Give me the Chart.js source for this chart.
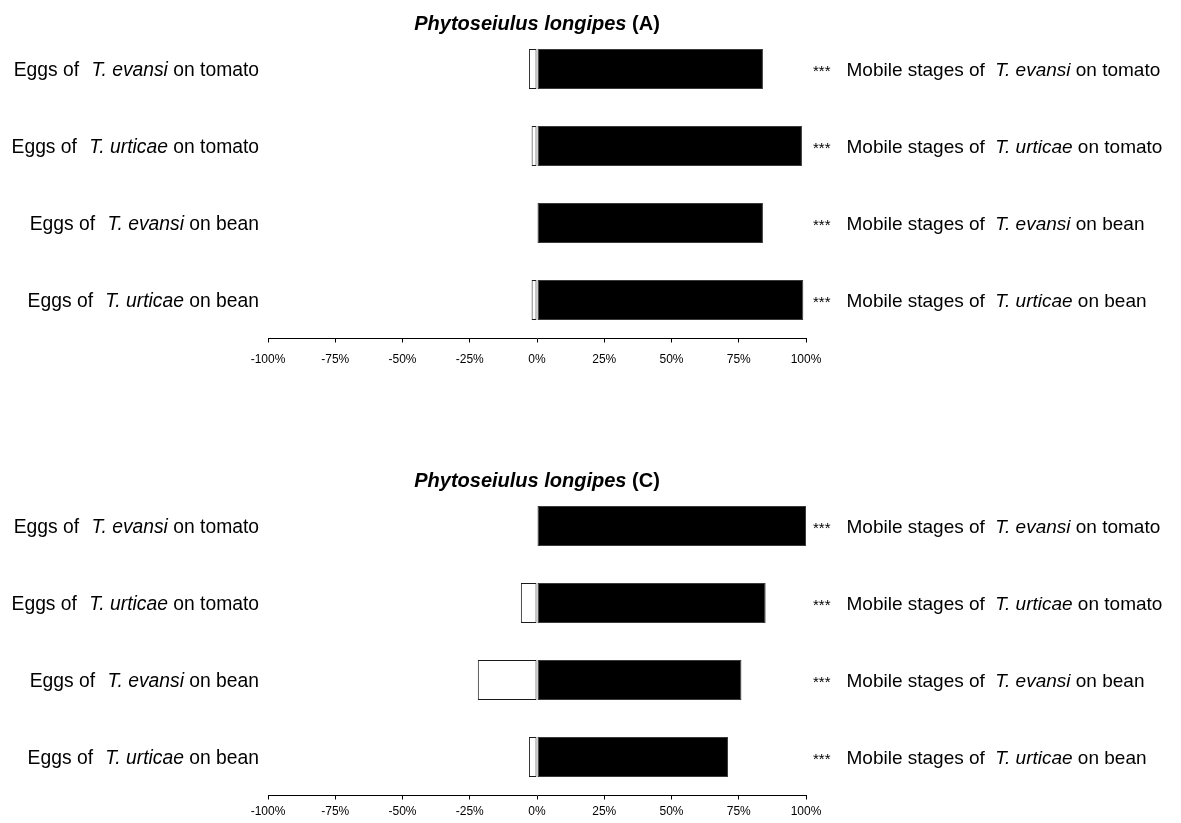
<!DOCTYPE html>
<html>
<head>
<meta charset="utf-8">
<script src="https://cdn.jsdelivr.net/npm/chart.js@4.4.0/dist/chart.umd.min.js"></script>
<style>
  html, body { margin: 0; padding: 0; background: #fff; }
  #wrap { position: relative; width: 1181px; height: 823px; }
  .box { position: absolute; left: 0; width: 1181px; }
  #boxA { top: 0; height: 411px; }
  #boxC { top: 411px; height: 412px; }
</style>
</head>
<body>
<div id="wrap">
  <div class="box" id="boxA"><canvas id="chartA"></canvas></div>
  <div class="box" id="boxC"><canvas id="chartC"></canvas></div>
</div>
<script>
// rows, top to bottom
const species = ['T. evansi', 'T. urticae', 'T. evansi', 'T. urticae'];
const plants = ['tomato', 'tomato', 'bean', 'bean'];

// panel A
const eggsA = [-3, -2, 0, -2];
const mobileA = [84, 98.5, 84, 99];
const signifA = ['***', '***', '***', '***'];

// panel C
const eggsC = [0, -6, -22, -3];
const mobileC = [100, 85, 76, 71];
const signifC = ['***', '***', '***', '***'];

const FONT = "'Liberation Sans', Arial, sans-serif";

// draws pieces of text with their own font, one after the other
function drawParts(ctx, parts, x, y, align) {
  let total = 0;
  parts.forEach(p => { ctx.font = p.font; total += ctx.measureText(p.text).width + (p.gap || 0); });
  let cx = align === 'right' ? x - total : align === 'center' ? x - total / 2 : x;
  parts.forEach(p => {
    ctx.font = p.font;
    ctx.fillText(p.text, cx, y);
    cx += ctx.measureText(p.text).width + (p.gap || 0);
  });
}

function labelPlugin(letter, signif) {
  return {
    id: 'sideLabels',
    afterDraw(chart) {
      const ctx = chart.ctx;
      const area = chart.chartArea;
      const yScale = chart.scales.y;
      ctx.save();
      ctx.fillStyle = '#000';
      ctx.textBaseline = 'alphabetic';
      const regL = '19.3px ' + FONT;
      const itaL = 'italic 19.3px ' + FONT;
      const reg = '19px ' + FONT;
      const ita = 'italic 19px ' + FONT;
      species.forEach((sp, i) => {
        const y = yScale.getPixelForValue(i) + 6.5;
        drawParts(ctx, [
          { text: 'Eggs of ', font: regL, gap: 7 },
          { text: sp, font: itaL },
          { text: ' on ' + plants[i], font: regL }
        ], 259, y, 'right');
        drawParts(ctx, [
          { text: signif[i], font: '15px ' + FONT, gap: 16 },
          { text: 'Mobile stages of ', font: reg, gap: 5 },
          { text: sp, font: ita },
          { text: ' on ' + plants[i], font: reg }
        ], area.right + 7, y, 'left');
      });
      drawParts(ctx, [
        { text: 'Phytoseiulus longipes', font: 'italic bold 20px ' + FONT },
        { text: ' (' + letter + ')', font: 'bold 20px ' + FONT }
      ], (area.left + area.right) / 2, area.top - 1, 'center');
      ctx.restore();
    }
  };
}

function makeChart(id, eggs, mobile, signif, letter, pad, tickPad) {
  const ctx = document.getElementById(id).getContext('2d');
  return new Chart(ctx, {
    type: 'bar',
    data: {
      labels: species.map((s, i) => s + ' ' + plants[i]),
      datasets: [
        {
          label: 'Eggs',
          data: eggs,
          backgroundColor: '#ffffff',
          borderColor: '#1a1a1a',
          borderWidth: 1,
          borderSkipped: false,
          barPercentage: 0.52,
          categoryPercentage: 1
        },
        {
          label: 'Mobile stages',
          data: mobile,
          backgroundColor: '#000000',
          borderColor: '#3a3a3a',
          borderWidth: 1,
          borderSkipped: false,
          barPercentage: 0.52,
          categoryPercentage: 1
        }
      ]
    },
    options: {
      indexAxis: 'y',
      responsive: true,
      maintainAspectRatio: false,
      animation: false,
      layout: { padding: pad },
      plugins: {
        legend: { display: false },
        tooltip: { enabled: false }
      },
      scales: {
        y: {
          stacked: true,
          display: false
        },
        x: {
          stacked: true,
          min: -100,
          max: 100,
          afterFit: (scale) => { scale.height = 26; },
          grid: { drawOnChartArea: false, drawTicks: true, tickLength: 4, color: '#000' },
          border: { display: true, color: '#000', width: 1 },
          ticks: {
            stepSize: 25,
            padding: tickPad,
            maxRotation: 0,
            color: '#000',
            font: { family: FONT, size: 12 },
            callback: (v) => v + '%'
          }
        }
      }
    },
    plugins: [labelPlugin(letter, signif)]
  });
}

makeChart('chartA', eggsA, mobileA, signifA, 'A', { left: 268, right: 375, top: 30.5, bottom: 46.5 }, 10);
makeChart('chartC', eggsC, mobileC, signifC, 'C', { left: 268, right: 375, top: 76.5, bottom: 1.5 }, 5);
</script>
</body>
</html>
